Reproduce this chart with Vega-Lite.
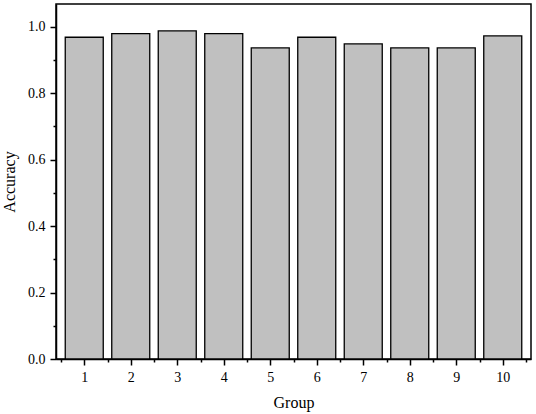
{
  "$schema": "https://vega.github.io/schema/vega-lite/v6.json",
  "width": 475,
  "height": 355,
  "autosize": "none",
  "padding": {"left": 56, "top": 4, "right": 5, "bottom": 55},
  "background": "white",
  "data": {"values": [
    {"Group": 1, "Accuracy": 0.968},
    {"Group": 2, "Accuracy": 0.979},
    {"Group": 3, "Accuracy": 0.987},
    {"Group": 4, "Accuracy": 0.979},
    {"Group": 5, "Accuracy": 0.936},
    {"Group": 6, "Accuracy": 0.968},
    {"Group": 7, "Accuracy": 0.948},
    {"Group": 8, "Accuracy": 0.936},
    {"Group": 9, "Accuracy": 0.936},
    {"Group": 10, "Accuracy": 0.972}
  ]},
  "config": {
    "view": {"stroke": "black", "strokeWidth": 1.5},
    "font": "Liberation Serif",
    "axis": {
      "domainColor": "black", "domainWidth": 1.5,
      "tickColor": "black", "tickWidth": 1.5,
      "labelColor": "black", "titleColor": "black",
      "labelFont": "Liberation Serif", "titleFont": "Liberation Serif",
      "labelFontSize": 14, "titleFontSize": 16, "titleFontWeight": "normal",
      "grid": false
    }
  },
  "mark": {"type": "bar", "width": 38, "fill": "#c0c0c0", "stroke": "black", "strokeWidth": 1.3},
  "encoding": {
    "x": {
      "field": "Group", "type": "quantitative",
      "scale": {"domain": [0.5, 10.5], "nice": false, "zero": false},
      "axis": {
        "values": [0.5, 1, 1.5, 2, 2.5, 3, 3.5, 4, 4.5, 5, 5.5, 6, 6.5, 7, 7.5, 8, 8.5, 9, 9.5, 10, 10.5],
        "labelExpr": "datum.value % 1 === 0 ? format(datum.value, 'd') : ''",
        "tickSize": {"condition": {"test": "datum.value % 1 === 0", "value": 6}, "value": 3},
        "labelFont": "Liberation Serif",
        "labelPadding": 5,
        "labelFlush": false,
        "labelOverlap": false,
        "title": "Group",
        "titlePadding": 10
      }
    },
    "y": {
      "field": "Accuracy", "type": "quantitative",
      "scale": {"domain": [0, 1.068], "nice": false},
      "axis": {
        "values": [0, 0.1, 0.2, 0.3, 0.4, 0.5, 0.6, 0.7, 0.8, 0.9, 1.0],
        "labelExpr": "round(datum.value * 10) % 2 === 0 ? format(datum.value, '.1f') : ''",
        "tickSize": {"condition": {"test": "round(datum.value * 10) % 2 === 0", "value": 6}, "value": 3},
        "labelFont": "Liberation Serif",
        "labelPadding": 5,
        "labelFlush": false,
        "labelOverlap": false,
        "title": "Accuracy",
        "titlePadding": 10
      }
    }
  }
}
